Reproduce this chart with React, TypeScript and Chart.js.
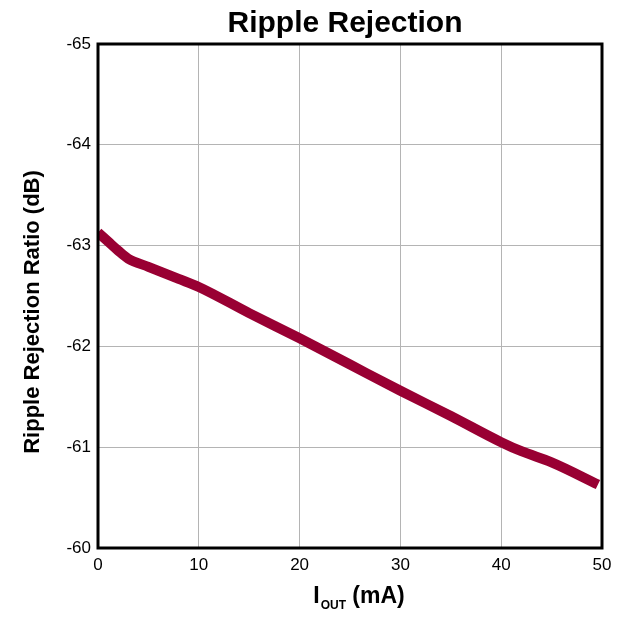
import React, { useEffect, useRef } from "react";
import { Chart, registerables } from "chart.js";

Chart.register(...registerables);

const currentMA = [0, 1, 2, 3, 5, 8, 10, 15, 20, 25, 30, 35, 40, 42, 45, 49.6];
const rejectionDB = [-63.13, -63.04, -62.95, -62.87, -62.79, -62.67, -62.59, -62.33, -62.08, -61.82, -61.56, -61.31, -61.05, -60.96, -60.85, -60.63];
const xTicks = [0, 10, 20, 30, 40, 50];
const yTicks = [-65, -64, -63, -62, -61, -60];
const chartTitle = "Ripple Rejection";
const yTitle = "Ripple Rejection Ratio (dB)";
const xTitleMain = "I";
const xTitleSub = "OUT";
const xTitleUnit = " (mA)";

const FONT = "'Liberation Sans', Arial, sans-serif";

const frame = {
  id: "frame",
  afterDatasetsDraw(chart: any) {
    const { ctx, chartArea: a } = chart;
    ctx.save();
    ctx.strokeStyle = "#000";
    ctx.lineWidth = 3;
    ctx.strokeRect(a.left, a.top, a.right - a.left, a.bottom - a.top);
    ctx.restore();
  },
  afterDraw(chart: any) {
    const { ctx, chartArea: a } = chart;
    ctx.save();
    ctx.fillStyle = "#000";
    const cx = (a.left + a.right) / 2;

    // chart title
    ctx.textAlign = "center";
    ctx.textBaseline = "alphabetic";
    ctx.font = `bold 30px ${FONT}`;
    ctx.fillText(chartTitle, cx - 5, 32);

    // y title
    ctx.save();
    ctx.translate(33, (a.top + a.bottom) / 2 + 16);
    ctx.rotate(-Math.PI / 2);
    ctx.font = `bold 22px ${FONT}`;
    ctx.textAlign = "center";
    ctx.textBaseline = "middle";
    ctx.fillText(yTitle, 0, 0);
    ctx.restore();

    // x title with subscript
    ctx.textAlign = "left";
    const big = `bold 23px ${FONT}`;
    const small = `bold 12px ${FONT}`;
    ctx.font = big;
    const wI = ctx.measureText(xTitleMain).width;
    const wM = ctx.measureText(xTitleUnit).width;
    ctx.font = small;
    const wO = ctx.measureText(xTitleSub).width;
    const total = wI + 1 + wO + wM;
    let x = cx + 9 - total / 2;
    const base = 603;
    ctx.font = big;
    ctx.fillText(xTitleMain, x, base);
    x += wI + 1;
    ctx.font = small;
    ctx.fillText(xTitleSub, x, base + 6);
    x += wO;
    ctx.font = big;
    ctx.fillText(xTitleUnit, x, base);
    ctx.restore();
  },
};

export default function App() {
  const ref = useRef<HTMLCanvasElement>(null);
  useEffect(() => {
    if (!ref.current) return;
    const chart = new Chart(ref.current, {
      type: "line",
      data: {
        datasets: [
          {
            data: currentMA.map((x, i) => ({ x, y: rejectionDB[i] })),
            borderColor: "#990033",
            borderWidth: 10,
            pointRadius: 0,
            cubicInterpolationMode: "monotone",
            fill: false,
          },
        ],
      },
      options: {
        animation: false,
        responsive: true,
        maintainAspectRatio: false,
        layout: { padding: { left: 0, right: 27, top: 44, bottom: 0 } },
        plugins: {
          legend: { display: false },
          tooltip: { enabled: false },
          title: { display: false },
        },
        scales: {
          x: {
            type: "linear",
            min: 0,
            max: 50,
            afterBuildTicks: (s: any) => {
              s.ticks = xTicks.map((v) => ({ value: v }));
            },
            afterFit: (s: any) => {
              s.height = 69;
            },
            grid: { color: "#b4b4b4", lineWidth: 1, drawTicks: false },
            border: { display: false },
            ticks: { color: "#000", font: { family: FONT, size: 17 }, padding: 7, maxRotation: 0 },
          },
          y: {
            type: "linear",
            min: -65,
            max: -60,
            reverse: true,
            afterBuildTicks: (s: any) => {
              s.ticks = yTicks.map((v) => ({ value: v }));
            },
            afterFit: (s: any) => {
              s.width = 98;
            },
            grid: { color: "#b4b4b4", lineWidth: 1, drawTicks: false },
            border: { display: false },
            ticks: { color: "#000", font: { family: FONT, size: 17 }, padding: 7 },
          },
        },
      },
      plugins: [frame],
    });
    return () => chart.destroy();
  }, []);
  return (
    <div style={{ position: "fixed", left: 0, top: 0, width: 629, height: 617, background: "#fff" }}>
      <canvas ref={ref} />
    </div>
  );
}
